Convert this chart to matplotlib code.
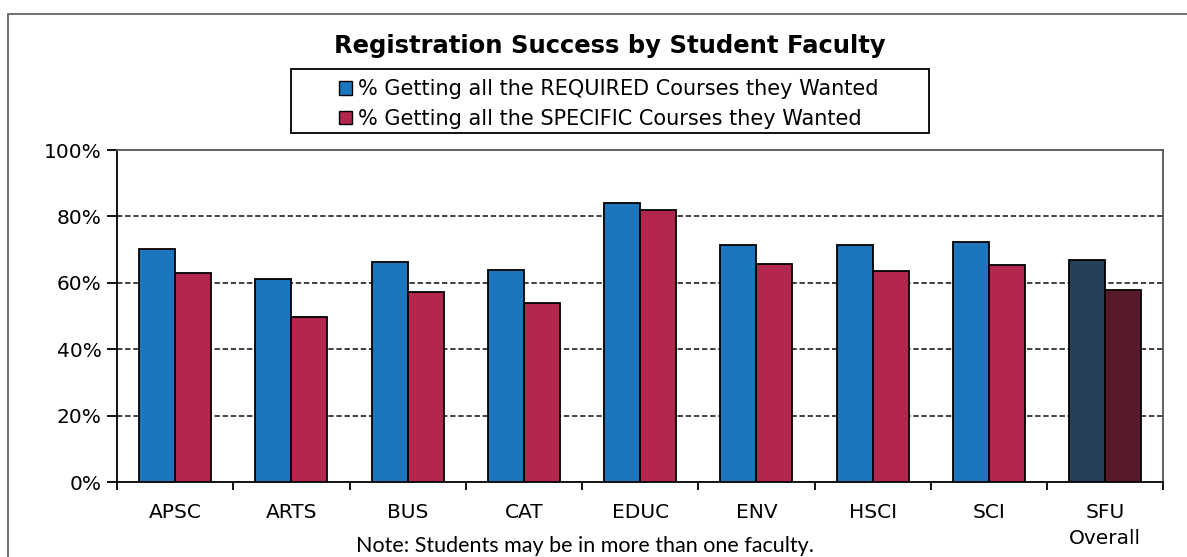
import numpy as np
import matplotlib
matplotlib.use("Agg")
import matplotlib.pyplot as plt
from matplotlib.patches import Rectangle

# data
faculties = ["APSC", "ARTS", "BUS", "CAT", "EDUC", "ENV", "HSCI", "SCI", "SFU\nOverall"]
required = [70.2, 61.2, 66.2, 63.9, 84.2, 71.5, 71.3, 72.2, 66.9]
specific = [62.9, 49.6, 57.1, 53.9, 82.0, 65.8, 63.5, 65.3, 57.9]
series_names = ["% Getting all the REQUIRED Courses they Wanted",
                "% Getting all the SPECIFIC Courses they Wanted"]

blue = "#1b76bd"
red = "#b3274f"
blue_overall = "#26405c"
red_overall = "#581a2b"

plt.rcParams['font.family'] = ['DejaVu Sans']

fig = plt.figure(figsize=(11.87, 5.57), dpi=100)
ax = fig.add_axes([0.0986, 0.1346, 0.8814, 0.596])

x = np.arange(len(faculties))
w = 0.31
blue_cols = [blue] * (len(faculties) - 1) + [blue_overall]
red_cols = [red] * (len(faculties) - 1) + [red_overall]
b1 = ax.bar(x - w / 2, required, w, color=blue_cols, edgecolor="black", linewidth=1.3,
            label=series_names[0], zorder=3)
b2 = ax.bar(x + w / 2, specific, w, color=red_cols, edgecolor="black", linewidth=1.3,
            label=series_names[1], zorder=3)

ax.set_xlim(-0.5, len(faculties) - 0.5)
ax.set_ylim(0, 100)
ax.set_yticks([0, 20, 40, 60, 80, 100])
ax.set_yticklabels([f"{v}%" for v in [0, 20, 40, 60, 80, 100]], fontsize=14.5)
ax.set_xticks(x)
ax.set_xticklabels(faculties, fontsize=14.5, linespacing=1.45)
ax.set_xticks(np.arange(-0.5, len(faculties)), minor=True)
ax.tick_params(axis="x", which="major", length=0, pad=15)
ax.tick_params(axis="x", which="minor", length=6, width=1.3, direction="out")
ax.tick_params(axis="y", length=7, width=1.3, direction="out", pad=4)
for s in ax.spines.values():
    s.set_linewidth(1.3)
ax.spines["right"].set_color("#555555")
ax.spines["top"].set_color("#555555")

for v in [20, 40, 60, 80]:
    ax.axhline(v, color="#333333", linestyle=(0, (3, 1.5)), linewidth=1.3, zorder=1)

fig.text(0.514, 0.917, "Registration Success by Student Faculty", ha="center", va="center",
         fontsize=17.5, fontweight="bold")

leg = fig.legend(handles=[b1, b2], labels=series_names, loc="center",
                 bbox_to_anchor=(0.513, 0.8133), fontsize=15, frameon=False,
                 handlelength=0.6, handleheight=0.6, handletextpad=0.3,
                 labelspacing=0.45, borderpad=0.3)
for h in leg.legend_handles:
    h.set_edgecolor("black")
    h.set_linewidth(1.0)
leg.legend_handles[0].set_facecolor(blue)
leg.legend_handles[1].set_facecolor(red)
# legend box is wider than the entries in the original
fig.patches.append(Rectangle((0.2452, 0.7612), 0.5375, 0.1149, transform=fig.transFigure,
                             fill=False, edgecolor="black", linewidth=1.3))

fig.text(0.493, 0.02, "Note: Students may be in more than one faculty.", ha="center",
         va="center", fontsize=15.5, family="Lato")

# outer frame of the scanned page
fig.patches.append(Rectangle((0.007, -0.1), 1.1, 1.075, transform=fig.transFigure,
                             fill=False, edgecolor="#666666", linewidth=1.3))

fig.savefig("out.png", dpi=100)
